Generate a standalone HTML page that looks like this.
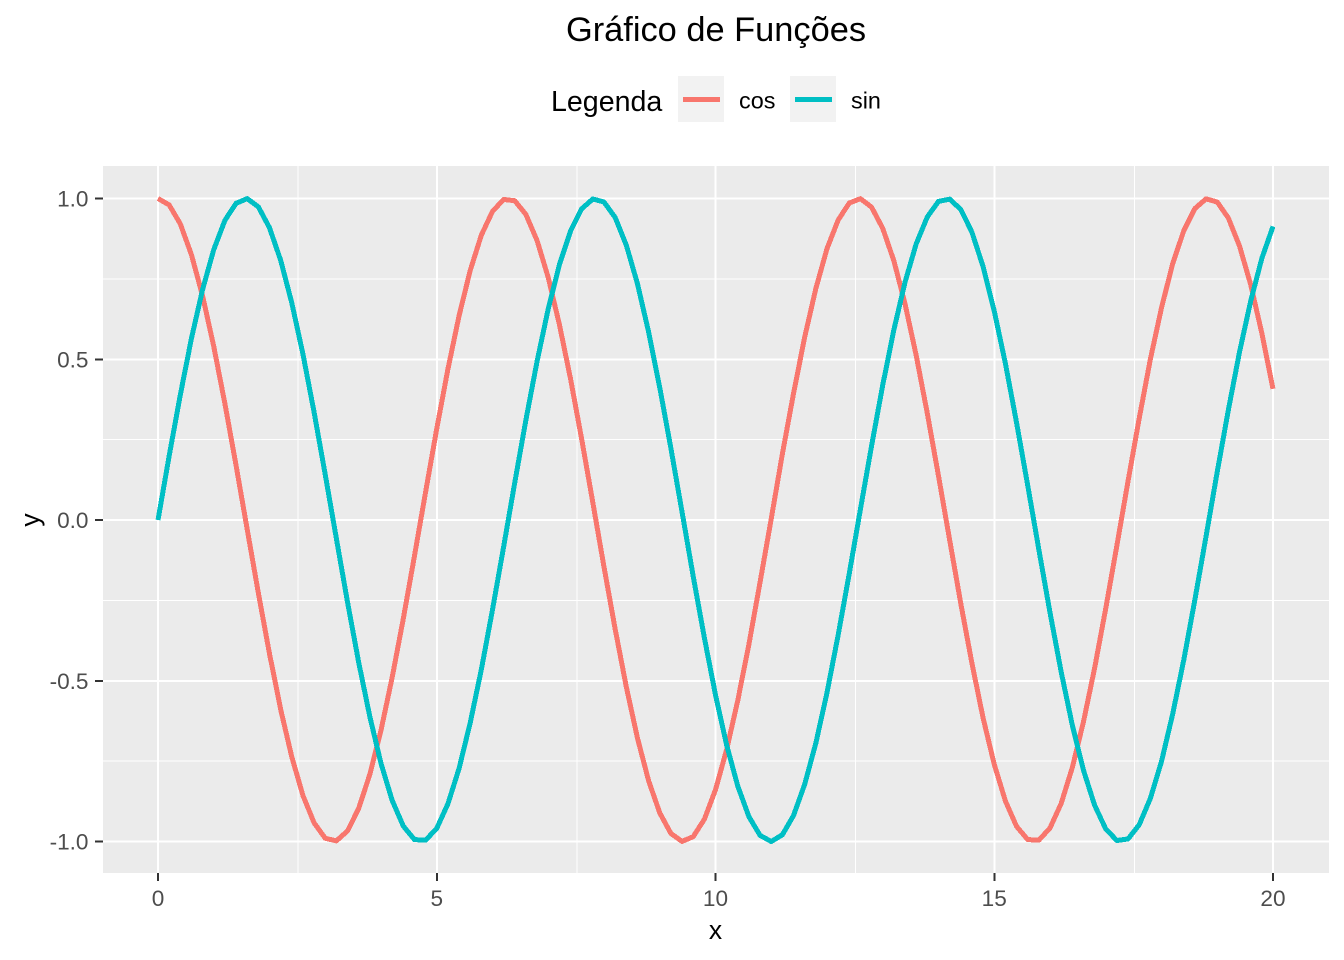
<!DOCTYPE html>
<html lang="pt">
<head>
<meta charset="utf-8">
<title>Gráfico de Funções</title>
<style>
html,body{margin:0;padding:0;background:#fff;}
svg{display:block;font-family:"Liberation Sans",Arial,sans-serif;}
</style>
</head>
<body>
<svg id="chart" xmlns="http://www.w3.org/2000/svg" width="1344" height="960" viewBox="0 0 1344 960">
  <rect x="0" y="0" width="1344" height="960" fill="#ffffff"/>
  <text x="716" y="41" font-size="34.4" text-anchor="middle" fill="#000">Gráfico de Funções</text>
  <g>
    <text x="551" y="111" font-size="28.6" fill="#000">Legenda</text>
    <rect x="678" y="76" width="46" height="46" fill="#F2F2F2"/>
    <line x1="683" x2="720" y1="99.5" y2="99.5" stroke="#F8766D" stroke-width="5" shape-rendering="crispEdges"/>
    <text x="739" y="108.5" font-size="23.4" fill="#000">cos</text>
    <rect x="790" y="76" width="46" height="46" fill="#F2F2F2"/>
    <line x1="795" x2="832" y1="99.5" y2="99.5" stroke="#00BFC4" stroke-width="5" shape-rendering="crispEdges"/>
    <text x="851" y="108.5" font-size="23.4" fill="#000">sin</text>
  </g>
  <rect x="103" y="166" width="1226" height="707" fill="#EBEBEB"/>
  <g id="grid"></g>
  <g id="axes"></g>
  <g id="series"></g>
  <text x="715.5" y="939" font-size="26.5" text-anchor="middle" fill="#000">x</text>
  <text transform="translate(39,520) rotate(-90)" font-size="26.5" text-anchor="middle" fill="#000">y</text>
</svg>
<script>
const xValues = [0,0.2,0.4,0.6,0.8,1,1.2,1.4,1.6,1.8,2,2.2,2.4,2.6,2.8,3,3.2,3.4,3.6,3.8,4,4.2,4.4,4.6,4.8,5,5.2,5.4,5.6,5.8,6,6.2,6.4,6.6,6.8,7,7.2,7.4,7.6,7.8,8,8.2,8.4,8.6,8.8,9,9.2,9.4,9.6,9.8,10,10.2,10.4,10.6,10.8,11,11.2,11.4,11.6,11.8,12,12.2,12.4,12.6,12.8,13,13.2,13.4,13.6,13.8,14,14.2,14.4,14.6,14.8,15,15.2,15.4,15.6,15.8,16,16.2,16.4,16.6,16.8,17,17.2,17.4,17.6,17.8,18,18.2,18.4,18.6,18.8,19,19.2,19.4,19.6,19.8,20];
const sinValues = [0,0.199,0.389,0.565,0.717,0.841,0.932,0.985,0.9996,0.974,0.909,0.808,0.675,0.516,0.335,0.141,-0.058,-0.256,-0.443,-0.612,-0.757,-0.872,-0.952,-0.994,-0.996,-0.959,-0.883,-0.773,-0.631,-0.465,-0.279,-0.083,0.117,0.312,0.494,0.657,0.794,0.899,0.968,0.9985,0.989,0.941,0.855,0.735,0.585,0.412,0.223,0.025,-0.175,-0.366,-0.544,-0.7,-0.828,-0.923,-0.981,-1,-0.979,-0.919,-0.822,-0.694,-0.537,-0.358,-0.166,0.034,0.231,0.42,0.592,0.74,0.859,0.943,0.991,0.998,0.966,0.895,0.788,0.65,0.487,0.303,0.108,-0.092,-0.288,-0.472,-0.638,-0.778,-0.887,-0.961,-0.997,-0.992,-0.948,-0.866,-0.751,-0.604,-0.435,-0.247,-0.05,0.15,0.343,0.523,0.681,0.814,0.913];
const cosValues = [1,0.98,0.921,0.825,0.697,0.54,0.362,0.17,-0.029,-0.227,-0.416,-0.589,-0.737,-0.857,-0.942,-0.99,-0.998,-0.967,-0.897,-0.791,-0.654,-0.49,-0.307,-0.112,0.087,0.284,0.469,0.635,0.776,0.886,0.96,0.997,0.993,0.95,0.869,0.754,0.608,0.439,0.251,0.054,-0.146,-0.339,-0.519,-0.678,-0.811,-0.911,-0.975,-0.9997,-0.985,-0.931,-0.839,-0.714,-0.561,-0.386,-0.193,0.004,0.206,0.394,0.569,0.72,0.844,0.933,0.986,0.9994,0.973,0.907,0.806,0.672,0.512,0.331,0.137,-0.062,-0.26,-0.446,-0.616,-0.76,-0.874,-0.953,-0.994,-0.996,-0.958,-0.882,-0.77,-0.628,-0.461,-0.275,-0.079,0.121,0.316,0.5,0.66,0.797,0.9,0.969,0.999,0.989,0.939,0.852,0.732,0.581,0.408];
const xTicks = [0,5,10,15,20];
const yTicks = [-1,-0.5,0,0.5,1];
const xMinorTicks = [2.5,7.5,12.5,17.5];
const yMinorTicks = [-0.75,-0.25,0.25,0.75];
const xTickLabels = ["0","5","10","15","20"];
const yTickLabels = ["-1.0","-0.5","0.0","0.5","1.0"];

const SVG_NS = 'http://www.w3.org/2000/svg';
const PANEL = {left:103, right:1329, top:166, bottom:873};
function xScale(v){ return 158 + (v - 0) * (1273 - 158) / (20 - 0); }
function yScale(v){ return 520 - v * (841 - 198) / 2; }

function makeLine(x1, y1, x2, y2, stroke, width){
  const el = document.createElementNS(SVG_NS, 'line');
  el.setAttribute('x1', x1);
  el.setAttribute('y1', y1);
  el.setAttribute('x2', x2);
  el.setAttribute('y2', y2);
  el.setAttribute('stroke', stroke);
  el.setAttribute('stroke-width', width);
  el.setAttribute('shape-rendering', 'crispEdges');
  return el;
}
function makeText(x, y, str, anchor){
  const el = document.createElementNS(SVG_NS, 'text');
  el.setAttribute('x', x);
  el.setAttribute('y', y);
  el.setAttribute('font-size', '22.6');
  el.setAttribute('fill', '#4D4D4D');
  el.setAttribute('text-anchor', anchor);
  el.textContent = str;
  return el;
}

const grid = document.getElementById('grid');
const axes = document.getElementById('axes');
const seriesGroup = document.getElementById('series');

yMinorTicks.forEach(function(v){
  const el = makeLine(PANEL.left, yScale(v), PANEL.right, yScale(v), '#ffffff', 1);
  
  
  grid.appendChild(el);
});
xMinorTicks.forEach(function(v){
  const el = makeLine(xScale(v) + 0.8, PANEL.top, xScale(v) + 0.8, PANEL.bottom, '#ffffff', 1);
  
  
  grid.appendChild(el);
});
yTicks.forEach(function(v, i){
  const g = makeLine(PANEL.left, yScale(v), PANEL.right, yScale(v), '#ffffff', 2);
  
  
  grid.appendChild(g);
  const t = makeLine(95, yScale(v), PANEL.left, yScale(v), '#333333', 2);
  
  
  axes.appendChild(t);
  const l = makeText(88.5, yScale(v) + 8, yTickLabels[i], 'end');
  
  
  axes.appendChild(l);
});
xTicks.forEach(function(v, i){
  const g = makeLine(xScale(v), PANEL.top, xScale(v), PANEL.bottom, '#ffffff', 2);
  
  
  grid.appendChild(g);
  const t = makeLine(xScale(v), PANEL.bottom, xScale(v), 881, '#333333', 2);
  
  
  axes.appendChild(t);
  const l = makeText(xScale(v), 906, xTickLabels[i], 'middle');
  
  
  axes.appendChild(l);
});

function pathFor(values){
  return values.map(function(v, i){
    return (i ? 'L' : 'M') + xScale(xValues[i]).toFixed(2) + ' ' + yScale(v).toFixed(2);
  }).join(' ');
}

const cosPath = document.createElementNS(SVG_NS, 'path');
cosPath.setAttribute('d', pathFor(cosValues));
cosPath.setAttribute('fill', 'none');
cosPath.setAttribute('stroke', '#F8766D');
cosPath.setAttribute('stroke-width', '5');
cosPath.setAttribute('stroke-linejoin', 'round');
cosPath.setAttribute('shape-rendering', 'crispEdges');


seriesGroup.appendChild(cosPath);

const sinPath = document.createElementNS(SVG_NS, 'path');
sinPath.setAttribute('d', pathFor(sinValues));
sinPath.setAttribute('fill', 'none');
sinPath.setAttribute('stroke', '#00BFC4');
sinPath.setAttribute('stroke-width', '5');
sinPath.setAttribute('stroke-linejoin', 'round');
sinPath.setAttribute('shape-rendering', 'crispEdges');


seriesGroup.appendChild(sinPath);
</script>
</body>
</html>
